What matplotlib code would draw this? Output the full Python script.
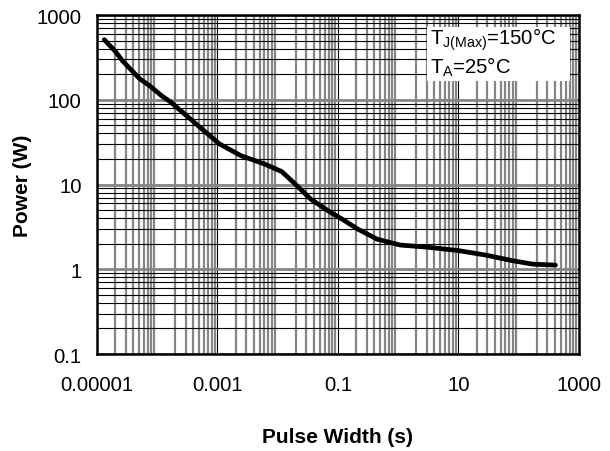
import matplotlib
matplotlib.use('agg')
import matplotlib.pyplot as plt
from matplotlib.ticker import LogLocator, NullFormatter

plt.rcParams['font.family'] = ['Liberation Sans', 'DejaVu Sans']
plt.rcParams['mathtext.fontset'] = 'custom'
plt.rcParams['mathtext.rm'] = 'Liberation Sans'

# pulse width (s) vs peak power (W)
pulse_width = [1.32e-5, 2.0e-5, 2.64e-5, 5.15e-5, 7.5e-5, 1.17e-4, 1.69e-4,
               3.55e-4, 6.4e-4, 1.08e-3, 2.45e-3, 5.98e-3, 1.17e-2, 1.96e-2,
               3.55e-2, 7.5e-2, 0.116, 0.211, 0.444, 1.08, 3.06, 10.0, 28.3,
               80.0, 170.0, 408.0]
power = [512, 375, 289, 176, 146, 112, 93.3, 59.3, 41.3, 30.1, 21.9, 17.5,
         14.2, 10.1, 6.7, 4.7, 3.92, 2.99, 2.27, 1.93, 1.82, 1.66, 1.47,
         1.26, 1.15, 1.12]

x_ticks = [1e-5, 1e-3, 1e-1, 10, 1000]
x_labels = ['0.00001', '0.001', '0.1', '10', '1000']
y_ticks = [0.1, 1, 10, 100, 1000]
y_labels = ['0.1', '1', '10', '100', '1000']

fig = plt.figure(figsize=(6.1, 4.52), dpi=100)
ax = fig.add_axes([0.159, 0.2146, 0.790, 0.75])

ax.set_xscale('log')
ax.set_yscale('log')
ax.set_xlim(1e-5, 1e3)
ax.set_ylim(0.1, 1000)

ax.xaxis.set_major_locator(LogLocator(base=10, numticks=20))
ax.xaxis.set_minor_locator(LogLocator(base=10, subs=range(2, 10), numticks=20))
ax.yaxis.set_minor_locator(LogLocator(base=10, subs=range(2, 10), numticks=20))
ax.xaxis.set_minor_formatter(NullFormatter())
ax.yaxis.set_minor_formatter(NullFormatter())

# excel-ish grid: grey thick verticals, thin black horizontals
ax.grid(which='minor', axis='x', color='#858585', lw=1.6, zorder=0)
ax.grid(which='major', axis='x', color='black', lw=0.8, zorder=0)
ax.grid(which='minor', axis='y', color='black', lw=0.8, zorder=0)
ax.grid(which='major', axis='y', color='#858585', lw=2.0, zorder=0)
ax.set_axisbelow(True)

ax.plot(pulse_width, power, color='black', lw=3.4, solid_capstyle='round',
        solid_joinstyle='round', zorder=3)

ax.set_xticks(x_ticks, x_labels)
ax.set_yticks(y_ticks, y_labels)
ax.tick_params(which='both', length=0, labelsize=14.7)
ax.tick_params(axis='x', pad=15)
ax.tick_params(axis='y', pad=11)

for s in ax.spines.values():
    s.set_linewidth(1.8)
    s.set_color('black')
    s.set_zorder(4)

ax.set_xlabel('Pulse Width (s)', fontsize=15, fontweight='bold')
ax.set_ylabel('Power (W)', fontsize=15, fontweight='bold')
ax.xaxis.set_label_coords(0.5, -0.242)
ax.yaxis.set_label_coords(-0.155, 0.5)
ax.xaxis.label.set_va('center')
ax.yaxis.label.set_va('center')

ax.add_patch(plt.Rectangle((0.684, 0.806), 0.297, 0.159,
                           transform=ax.transAxes, facecolor='white',
                           edgecolor='none', zorder=5))
ax.text(0.692, 0.915, r'T$_{\mathregular{J(Max)}}$=150°C',
        transform=ax.transAxes, fontsize=14.6, va='baseline', zorder=6)
ax.text(0.692, 0.83, r'T$_{\mathregular{A}}$=25°C',
        transform=ax.transAxes, fontsize=14.6, va='baseline', zorder=6)

fig.savefig('out.png', dpi=100)
